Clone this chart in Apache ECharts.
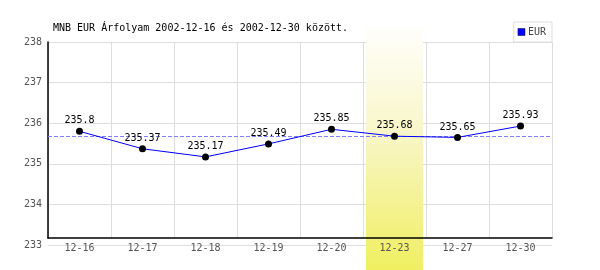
<!DOCTYPE html>
<html>
<head>
<meta charset="utf-8">
<script src="https://cdn.jsdelivr.net/npm/echarts@6/dist/echarts.min.js"></script>
<style>html,body{margin:0;padding:0;background:#fff}#c{width:600px;height:270px}</style>
</head>
<body>
<div id="c"></div>
<script>
const titleText = 'MNB EUR Árfolyam 2002-12-16 és 2002-12-30 között.';
const categories = ['12-16','12-17','12-18','12-19','12-20','12-23','12-27','12-30'];
const eurValues = [235.8, 235.37, 235.17, 235.49, 235.85, 235.68, 235.65, 235.93];
const highlightValues = [null, null, null, null, null, 1, null, null];
const referenceLine = 235.68;
const yTicks = [233, 234, 235, 236, 237, 238];

const FONT = "'DejaVu Sans Mono', 'Liberation Mono', monospace";
const chart = echarts.init(document.getElementById('c'), null, {renderer: 'canvas'});
chart.setOption({
  animation: false,
  backgroundColor: '#ffffff',
  title: {
    text: titleText, left: 48, top: 18,
    textStyle: {fontFamily: FONT, fontSize: 10, fontWeight: 'normal', color: '#000'}
  },
  legend: {
    data: [{name: 'EUR', itemStyle: {color: '#0000ff', borderColor: '#000033', borderWidth: 0.5}}],
    right: 48, top: 22, orient: 'horizontal',
    padding: [5, 6, 5, 4], itemGap: 4, itemWidth: 7, itemHeight: 7, icon: 'rect',
    borderColor: '#dddddd', borderWidth: 1, backgroundColor: '#fff',
    textStyle: {fontFamily: FONT, fontSize: 10, color: '#444', padding: [0, 0, 0, -2]}
  },
  grid: [
    {left: 48, right: 48, top: 42, bottom: 25},
    {left: 48, right: 48, top: 42, bottom: 32},
    {left: 48, right: 48, top: 20, bottom: 0}
  ],
  xAxis: [
    {gridIndex: 0, type: 'category', data: categories, show: false},
    {gridIndex: 1, type: 'category', data: categories, z: 3,
     axisLine: {show: true, lineStyle: {color: '#000', width: 1.5}},
     axisTick: {show: false},
     axisLabel: {show: true, margin: 5, color: '#555', fontFamily: FONT, fontSize: 10},
     splitLine: {show: true, lineStyle: {color: '#dddddd', width: 1}}},
    {gridIndex: 2, type: 'category', data: categories, show: false}
  ],
  yAxis: [
    {gridIndex: 0, type: 'value', min: yTicks[0], max: yTicks[yTicks.length - 1], interval: 1, z: 0,
     axisLine: {show: false}, axisTick: {show: false},
     axisLabel: {margin: 6, color: '#555', fontFamily: FONT, fontSize: 10},
     splitLine: {show: true, lineStyle: {color: '#dddddd', width: 1}}},
    {gridIndex: 1, type: 'value', min: 0, max: 1, z: 3,
     axisLine: {show: true, lineStyle: {color: '#000', width: 1.5}},
     axisTick: {show: false}, axisLabel: {show: false}, splitLine: {show: false}},
    {gridIndex: 2, type: 'value', min: 0, max: 1, show: false}
  ],
  series: [
    {
      name: 'highlight', type: 'bar', xAxisIndex: 2, yAxisIndex: 2, z: 1,
      data: highlightValues, barWidth: 57, silent: true,
      itemStyle: {color: new echarts.graphic.LinearGradient(0, 0, 0, 1, [
        {offset: 0, color: '#ffffff'},
        {offset: 0.45, color: '#f8f6c8'},
        {offset: 1, color: '#f0ef60'}
      ])}
    },
    {
      name: 'EUR', type: 'line', xAxisIndex: 0, yAxisIndex: 0, z: 5,
      data: eurValues,
      lineStyle: {color: '#0000ff', width: 1},
      itemStyle: {color: '#000000'},
      symbol: 'circle', symbolSize: 7, showSymbol: true,
      label: {show: true, position: 'top', distance: 2, color: '#000', fontFamily: FONT, fontSize: 10},
      markLine: {
        silent: true, symbol: 'none',
        lineStyle: {color: '#7f7fff', type: [4, 2], width: 1, opacity: 1},
        label: {show: false},
        emphasis: {disabled: true},
        data: [{yAxis: referenceLine}]
      }
    }
  ]
});
</script>
</body>
</html>
